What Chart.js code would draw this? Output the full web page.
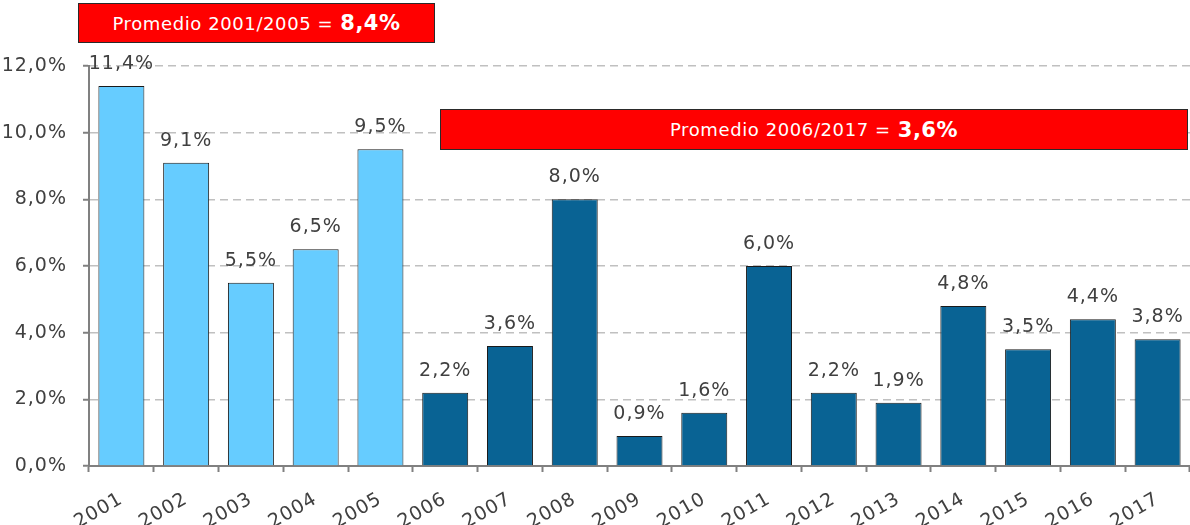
<!DOCTYPE html>
<html>
<head>
<meta charset="utf-8">
<script src="https://cdn.jsdelivr.net/npm/chart.js@4/dist/chart.umd.min.js"></script>
<style>
    body { margin: 0; background: #fff; }
    #wrap { position: relative; width: 1190px; height: 525px; }
    .banner {
        position: absolute;
        background: #ff0000;
        border: 1px solid #2a2a2a;
        color: #fff;
        box-sizing: border-box;
        display: flex;
        align-items: center;
        justify-content: center;
        white-space: nowrap;
        font-family: "DejaVu Sans", sans-serif;
        font-size: 18px;
        letter-spacing: 0.6px;
    }
    .banner b { font-size: 21px; margin-left: 7px; letter-spacing: 0.5px; }
    #banner1 { left: 78px; top: 3px; width: 357px; height: 40px; }
    #banner2 { left: 440px; top: 109px; width: 748px; height: 41px; }
</style>
</head>
<body>
<div id="wrap">
    <canvas id="chart" width="1190" height="525"></canvas>
    <div class="banner" id="banner1">Promedio 2001/2005 =<b>8,4%</b></div>
    <div class="banner" id="banner2">Promedio 2006/2017 =<b>3,6%</b></div>
</div>
<script>
// Data
const years = ['2001', '2002', '2003', '2004', '2005', '2006', '2007', '2008', '2009',
               '2010', '2011', '2012', '2013', '2014', '2015', '2016', '2017'];
const growth = [11.4, 9.1, 5.5, 6.5, 9.5, 2.2, 3.6, 8.0, 0.9, 1.6, 6.0, 2.2, 1.9, 4.8, 3.5, 4.4, 3.8];
const lastEarlyYear = '2005';
const yMin = 0;
const yMax = 12;
const yStep = 2;

const textColor = '#404040';
const font = 'DejaVu Sans';

function pct(v) {
    return v.toFixed(1).replace('.', ',') + '%';
}

// Verdana-like spacing for all canvas text
const spacing = {
    id: 'spacing',
    beforeLayout(chart) { chart.ctx.letterSpacing = '1px'; },
    beforeDraw(chart) { chart.ctx.letterSpacing = '1px'; }
};

// Value labels above each bar
const valueLabels = {
    id: 'valueLabels',
    afterDatasetsDraw(chart) {
        const ctx = chart.ctx;
        const meta = chart.getDatasetMeta(0);
        ctx.save();
        ctx.font = '19px "' + font + '"';
        ctx.fillStyle = textColor;
        ctx.textAlign = 'center';
        ctx.textBaseline = 'middle';
        meta.data.forEach((bar, i) => {
            ctx.fillText(pct(growth[i]), bar.x, bar.y - 22);
        });
        ctx.restore();
    }
};

const ctx = document.getElementById('chart').getContext('2d');
new Chart(ctx, {
    type: 'bar',
    data: {
        labels: years,
        datasets: [{
            data: growth,
            backgroundColor: c => years[c.dataIndex] <= lastEarlyYear ? '#66ccff' : '#096394',
            borderColor: '#1a1a1a',
            borderWidth: 1,
            barPercentage: 0.71,
            categoryPercentage: 1.0
        }]
    },
    options: {
        responsive: false,
        animation: false,
        layout: { padding: { top: 66, right: 0, left: 0, bottom: 0 } },
        plugins: {
            legend: { display: false },
            tooltip: { enabled: false }
        },
        scales: {
            x: {
                grid: {
                    display: true,
                    drawOnChartArea: false,
                    tickLength: 6,
                    tickColor: '#808080',
                    tickWidth: 2
                },
                border: { color: '#808080', width: 2 },
                ticks: {
                    color: textColor,
                    font: { family: font, size: 19 },
                    minRotation: 30,
                    maxRotation: 30,
                    padding: 16
                },
                afterFit(scale) {
                    scale.height = 59;
                    scale.paddingRight = 0;
                    scale.paddingLeft = 0;
                }
            },
            y: {
                min: yMin,
                max: yMax,
                ticks: {
                    stepSize: yStep,
                    color: textColor,
                    font: { family: font, size: 19 },
                    padding: 16,
                    callback: v => pct(v)
                },
                grid: {
                    color: '#c0c0c0',
                    lineWidth: 1.5,
                    tickLength: 6,
                    tickColor: '#808080',
                    tickWidth: 2,
                    tickBorderDash: []
                },
                border: { color: '#808080', width: 2, dash: [8, 5] },
                afterFit(scale) {
                    scale.width = 89;
                }
            }
        }
    },
    plugins: [spacing, valueLabels]
});
</script>
</body>
</html>
